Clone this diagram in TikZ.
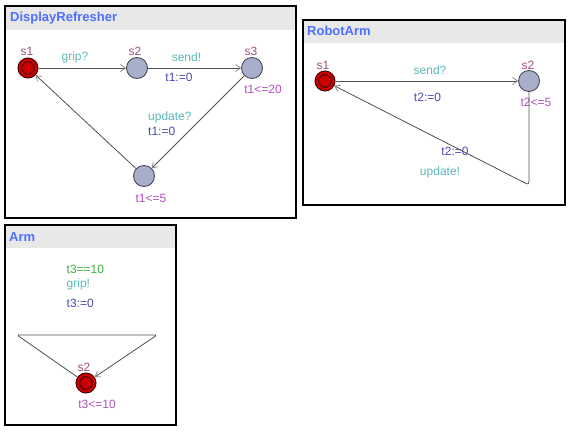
\documentclass[tikz,border=0pt]{standalone}
\usepackage{fontspec}
\setmainfont{Liberation Sans}
\usetikzlibrary{arrows.meta}
\definecolor{uRed}{HTML}{CC0000}
\definecolor{uDark}{HTML}{4A0000}
\definecolor{uGray}{HTML}{A7AFCB}
\definecolor{uGrayB}{HTML}{4A4A58}
\definecolor{uName}{HTML}{9E4F7C}
\definecolor{uSync}{HTML}{5CB8B8}
\definecolor{uAssign}{HTML}{4A4AB0}
\definecolor{uInv}{HTML}{B050C0}
\definecolor{uGuard}{HTML}{40B040}
\definecolor{uTitle}{HTML}{4F6FFF}
\definecolor{uHead}{HTML}{E8E8E8}
\definecolor{uEdge}{HTML}{505050}
\tikzset{
  redst/.style={circle, minimum size=20pt, inner sep=0pt, fill=uRed, draw=uDark, line width=1pt},
  inring/.style={draw=uDark, line width=1pt},
  grayst/.style={circle, minimum size=21pt, inner sep=0pt, fill=uGray, draw=uGrayB, line width=0.9pt},
  lbl/.style={inner sep=0pt, font=\fontsize{12}{14}\selectfont},
  nm/.style={lbl, text=uName},
  sy/.style={lbl, text=uSync},
  as/.style={lbl, text=uAssign},
  iv/.style={lbl, text=uInv},
  gd/.style={lbl, text=uGuard},
  ttl/.style={inner sep=0pt, anchor=west, text=uTitle, font=\bfseries\fontsize{13}{15}\selectfont},
  panel/.style={draw=black, line width=1.3pt},
  edge/.style={draw=uEdge, line width=0.8pt, -{Straight Barb[length=5pt,width=7pt,line width=0.7pt,color=gray]}}
}
\begin{document}
\begin{tikzpicture}[x=1pt,y=-1pt]
\useasboundingbox (0,0) rectangle (575,432);
\fill[white] (0,0) rectangle (575,432);
% ---------- DisplayRefresher ----------
\fill[uHead] (5,6) rectangle (296,30);
\draw[panel] (5,6) rectangle (296,218);
\node[ttl] (t1) at (10,18) {DisplayRefresher};
\node[redst] (d1) at (28,68) {};
\draw[inring] (d1.center) circle (6.3pt);
\node[grayst] (d2) at (137,68) {};
\node[grayst] (d3) at (252,68) {};
\node[grayst] (d4) at (144,176) {};
\node[nm] (d1n) at (27,51) {s1};
\node[nm] (d2n) at (135,51) {s2};
\node[nm] (d3n) at (251,51) {s3};
\node[sy] (dgrip) at (75,57) {grip?};
\node[sy] (dsend) at (186.5,57) {send!};
\node[as] (dass1) at (179,77) {t1:=0};
\node[iv] (dinv3) at (263,89) {t1<=20};
\node[sy, anchor=west] (dupd) at (148,117) {update?};
\node[as, anchor=west] (dass2) at (148,131) {t1:=0};
\node[iv] (dinv4) at (151,198) {t1<=5};
\draw[edge] (d1) -- (d2);
\draw[edge] (d2) -- (d3);
\draw[edge] (d3) -- (d4);
\draw[edge] (d4) -- (d1);
% ---------- RobotArm ----------
\fill[uHead] (303,20) rectangle (565,43);
\draw[panel] (303,20) rectangle (565,205);
\node[ttl] (t2) at (307,31) {RobotArm};
\node[redst] (r1) at (325,81) {};
\draw[inring] (r1.center) circle (6.3pt);
\node[grayst] (r2) at (529,81) {};
\node[nm] (r1n) at (323,65) {s1};
\node[nm] (r2n) at (528,65) {s2};
\node[sy] (rsend) at (430,70) {send?};
\node[as] (rass1) at (427.5,97) {t2:=0};
\node[iv] (rinv2) at (536,102) {t2<=5};
\node[as] (rass2) at (455,151) {t2:=0};
\node[sy] (rupd) at (440,172) {update!};
\coordinate (rc) at (529,185);
\draw[edge] (r1) -- (r2);
\draw[edge, rounded corners=3pt] (r2) -- (rc) -- (r1);
% ---------- Arm ----------
\fill[uHead] (5,225) rectangle (176,248);
\draw[panel] (5,225) rectangle (176,425);
\node[ttl] (t3) at (9,237) {Arm};
\node[redst] (a2) at (86,383) {};
\draw[inring] (a2.center) circle (6.3pt);
\node[nm] (a2n) at (84,367) {s2};
\node[gd, anchor=west] (agd) at (66.5,269) {t3==10};
\node[sy, anchor=west] (asy) at (66.5,284) {grip!};
\node[as, anchor=west] (aas) at (66.5,303) {t3:=0};
\node[iv] (ainv) at (97,404) {t3<=10};
\coordinate (ac1) at (17,335);
\coordinate (ac2) at (157,335);
\draw[edge, rounded corners=1.5pt] (a2) -- (ac1) -- (ac2) -- (a2);
\end{tikzpicture}
\end{document}
